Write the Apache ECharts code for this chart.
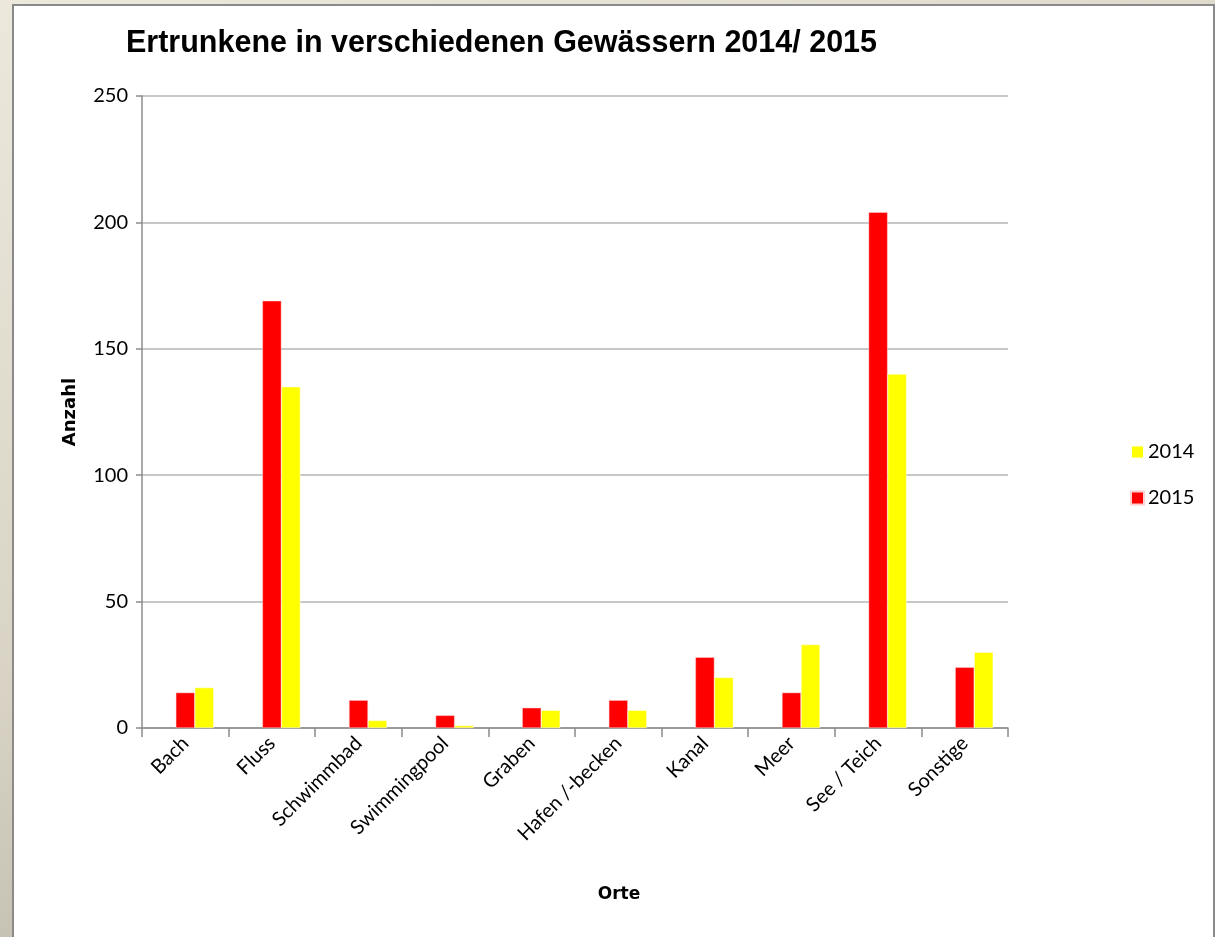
<!DOCTYPE html>
<html>
<head>
<meta charset="utf-8">
<script src="https://cdn.jsdelivr.net/npm/echarts@6/dist/echarts.min.js"></script>
<style>
  html, body { margin: 0; padding: 0; }
  body {
    width: 1215px; height: 937px; overflow: hidden; position: relative;
    background: linear-gradient(160deg, #ece8dc 0%, #d8d3c4 50%, #aaa698 100%);
  }
  #panel {
    position: absolute; left: 12px; top: 4px; width: 1199px; height: 940px;
    background: #fff; border: 2px solid #8a8a8a;
  }
  #chart { position: absolute; left: 0; top: 0; width: 1215px; height: 937px; }
</style>
</head>
<body>
<div id="panel"></div>
<div id="chart"></div>
<script>
// Orte und Anzahl der Ertrunkenen
var orte = ['Bach', 'Fluss', 'Schwimmbad', 'Swimmingpool', 'Graben', 'Hafen /-becken', 'Kanal', 'Meer', 'See / Teich', 'Sonstige'];
var werte2015 = [14, 169, 11, 5, 8, 11, 28, 14, 204, 24];
var werte2014 = [16, 135, 3, 1, 7, 7, 20, 33, 140, 30];
// leere Reihe (ausgeblendet im Original-Diagramm)
var leer = [null, null, null, null, null, null, null, null, null, null];

var chart = echarts.init(document.getElementById('chart'));

var labelFont = 'Lato, "Open Sans", sans-serif';

var option = {
  backgroundColor: 'transparent',
  animation: false,
  title: {
    text: 'Ertrunkene in verschiedenen Gewässern 2014/ 2015',
    left: 121,
    top: 23,
    textStyle: {
      fontFamily: '"Liberation Sans Narrow", "Liberation Sans", Arial, sans-serif',
      fontWeight: 'bold',
      fontSize: 30.5,
      color: '#000'
    }
  },
  legend: {
    orient: 'vertical',
    left: 1125,
    top: 437,
    itemGap: 26,
    itemWidth: 13,
    itemHeight: 13,
    icon: 'rect',
    data: ['2014', '2015'],
    textStyle: { fontFamily: labelFont, fontSize: 20, color: '#000', padding: [0, 0, 0, -1] }
  },
  grid: {
    left: 142,
    right: 207,
    top: 96,
    bottom: 209
  },
  xAxis: {
    type: 'category',
    data: orte,
    name: 'Orte',
    nameLocation: 'middle',
    nameGap: 158,
    nameTextStyle: {
      fontFamily: '"DejaVu Sans", sans-serif', fontWeight: 'bold', fontSize: 17, color: '#000',
      padding: [0, 0, 0, 88]
    },
    axisLine: { lineStyle: { color: '#8c8c8c', width: 1.5 } },
    axisTick: { show: true, length: 9, lineStyle: { color: '#8c8c8c', width: 1.5 } },
    axisLabel: {
      rotate: 45,
      margin: 12,
      fontFamily: labelFont,
      fontSize: 20,
      color: '#000'
    }
  },
  yAxis: {
    type: 'value',
    min: 0,
    max: 250,
    interval: 50,
    name: 'Anzahl',
    nameLocation: 'middle',
    nameGap: 63,
    nameRotate: 90,
    nameTextStyle: { fontFamily: '"DejaVu Sans", sans-serif', fontWeight: 'bold', fontSize: 18, color: '#000' },
    axisLine: { show: true, lineStyle: { color: '#8c8c8c', width: 1.5 } },
    axisTick: { show: true, length: 6, lineStyle: { color: '#8c8c8c', width: 1.5 } },
    splitLine: { lineStyle: { color: '#b4b4b4', width: 1.5 } },
    axisLabel: {
      margin: 14,
      fontFamily: labelFont,
      fontSize: 20,
      color: '#000'
    }
  },
  series: [
    {
      name: '',
      type: 'bar',
      data: leer,
      barWidth: 19,
      barGap: '0%',
      silent: true
    },
    {
      name: '2015',
      type: 'bar',
      data: werte2015,
      barWidth: 19,
      barGap: '0%',
      itemStyle: { color: '#ff0000', borderColor: '#ffd0d0', borderWidth: 0.5 }
    },
    {
      name: '2014',
      type: 'bar',
      data: werte2014,
      barWidth: 19,
      barGap: '0%',
      itemStyle: { color: '#ffff00', borderColor: '#fffff0', borderWidth: 0.5 }
    }
  ]
};

chart.setOption(option);
</script>
</body>
</html>
